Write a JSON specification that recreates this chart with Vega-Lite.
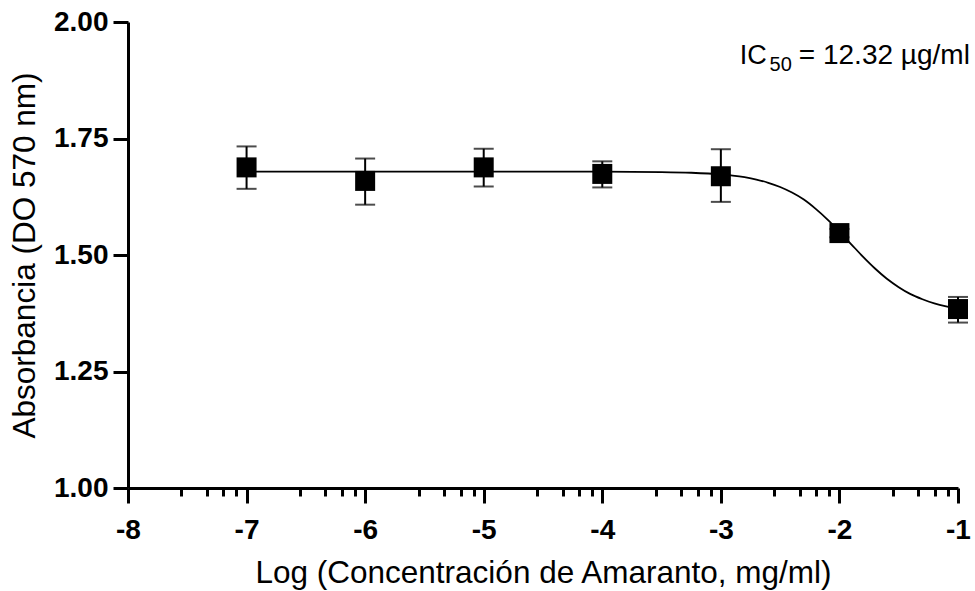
{
  "$schema": "https://vega.github.io/schema/vega-lite/v6.json",
  "width": 830,
  "height": 466,
  "autosize": {"type": "none"},
  "padding": {"left": 128, "top": 22, "right": 17, "bottom": 103},
  "background": "white",
  "config": {
    "view": {"stroke": null},
    "font": "Liberation Sans",
    "axis": {
      "grid": false,
      "domainColor": "black",
      "domainWidth": 3,
      "tickColor": "black",
      "tickWidth": 3,
      "labelColor": "black",
      "labelFont": "Liberation Sans",
      "labelFontWeight": "bold",
      "labelFontSize": 28,
      "titleFont": "Liberation Sans",
      "titleFontWeight": "normal",
      "titleFontSize": 31.5,
      "titleColor": "black",
      "labelOverlap": false,
      "labelFlush": false,
      "labelBound": false
    }
  },
  "datasets": {
    "points": [
      {"x": -7, "y": 1.688, "lo": 1.642, "hi": 1.733},
      {"x": -6, "y": 1.659, "lo": 1.608, "hi": 1.707},
      {"x": -5, "y": 1.688, "lo": 1.647, "hi": 1.728},
      {"x": -4, "y": 1.674, "lo": 1.645, "hi": 1.701},
      {"x": -3, "y": 1.669, "lo": 1.614, "hi": 1.727},
      {"x": -2, "y": 1.547, "lo": 1.538, "hi": 1.556},
      {"x": -1, "y": 1.384, "lo": 1.355, "hi": 1.410}
    ],
    "curve": [
      {"x": -7, "y": 1.679},
      {"x": -6, "y": 1.679},
      {"x": -5, "y": 1.679},
      {"x": -4, "y": 1.679},
      {"x": -3.5, "y": 1.678},
      {"x": -3.25, "y": 1.6765},
      {"x": -3.0, "y": 1.673},
      {"x": -2.9, "y": 1.6705},
      {"x": -2.8, "y": 1.667},
      {"x": -2.7, "y": 1.662},
      {"x": -2.6, "y": 1.655},
      {"x": -2.5, "y": 1.646},
      {"x": -2.4, "y": 1.634},
      {"x": -2.3, "y": 1.619},
      {"x": -2.2, "y": 1.599},
      {"x": -2.1, "y": 1.576},
      {"x": -2.0, "y": 1.550},
      {"x": -1.9, "y": 1.523},
      {"x": -1.8, "y": 1.496},
      {"x": -1.7, "y": 1.471},
      {"x": -1.6, "y": 1.449},
      {"x": -1.5, "y": 1.431},
      {"x": -1.4, "y": 1.416},
      {"x": -1.3, "y": 1.405},
      {"x": -1.2, "y": 1.396},
      {"x": -1.1, "y": 1.390},
      {"x": -1.0, "y": 1.386}
    ],
    "note": [
      {"x": -0.9, "y": 1.909, "ic": "IC", "sub": "50", "rest": "= 12.32 µg/ml"}
    ]
  },
  "encoding": {
    "x": {
      "field": "x", "type": "quantitative",
      "scale": {"domain": [-8, -1], "nice": false, "zero": false},
      "axis": {
        "title": "Log (Concentración de Amaranto, mg/ml)",
        "values": [-8, -7.55, -7.335, -7.195, -7.085, -7, -6.55, -6.335, -6.195, -6.085, -6, -5.55, -5.335, -5.195, -5.085, -5, -4.55, -4.335, -4.195, -4.085, -4, -3.55, -3.335, -3.195, -3.085, -3, -2.55, -2.335, -2.195, -2.085, -2, -1.55, -1.335, -1.195, -1.085, -1],
        "labelExpr": "abs(datum.value - round(datum.value)) < 0.001 ? '' + round(datum.value) : ''",
        "tickSize": {"condition": {"test": "abs(datum.value - round(datum.value)) < 0.001", "value": 15}, "value": 8},
        "labelOverlap": false,
        "labelFlush": false,
        "labelPadding": 13,
        "titlePadding": 13
      }
    },
    "y": {
      "field": "y", "type": "quantitative",
      "scale": {"domain": [1, 2], "nice": false, "zero": false},
      "axis": {
        "title": "Absorbancia (DO 570 nm)",
        "values": [1, 1.25, 1.5, 1.75, 2],
        "format": ".2f",
        "tickSize": 15,
        "labelOverlap": false,
        "labelPadding": 5,
        "titlePadding": 12
      }
    }
  },
  "layer": [
    {
      "data": {"name": "curve"},
      "mark": {"type": "line", "color": "black", "strokeWidth": 1.8, "interpolate": "monotone", "clip": false}
    },
    {
      "data": {"name": "points"},
      "mark": {"type": "rule", "color": "black", "strokeWidth": 2},
      "encoding": {
        "y": {"field": "lo", "type": "quantitative"},
        "y2": {"field": "hi"}
      }
    },
    {
      "data": {"name": "points"},
      "mark": {"type": "tick", "orient": "horizontal", "color": "black", "size": 20, "thickness": 2},
      "encoding": {
        "y": {"field": "lo", "type": "quantitative"}
      }
    },
    {
      "data": {"name": "points"},
      "mark": {"type": "tick", "orient": "horizontal", "color": "black", "size": 20, "thickness": 2},
      "encoding": {
        "y": {"field": "hi", "type": "quantitative"}
      }
    },
    {
      "data": {"name": "points"},
      "mark": {"type": "point", "shape": "square", "filled": true, "color": "black", "size": 400, "opacity": 1, "clip": false}
    },
    {
      "data": {"name": "note"},
      "mark": {"type": "text", "align": "right", "baseline": "alphabetic", "fontSize": 28, "font": "Liberation Sans", "color": "black", "clip": false},
      "encoding": {
        "text": {"field": "rest"}
      }
    },
    {
      "data": {"name": "note"},
      "mark": {"type": "text", "align": "right", "baseline": "alphabetic", "fontSize": 20, "font": "Liberation Sans", "color": "black", "clip": false, "dx": -178, "dy": 7},
      "encoding": {
        "text": {"field": "sub"}
      }
    },
    {
      "data": {"name": "note"},
      "mark": {"type": "text", "align": "right", "baseline": "alphabetic", "fontSize": 27, "font": "Liberation Sans", "color": "black", "clip": false, "dx": -203},
      "encoding": {
        "text": {"field": "ic"}
      }
    }
  ]
}
